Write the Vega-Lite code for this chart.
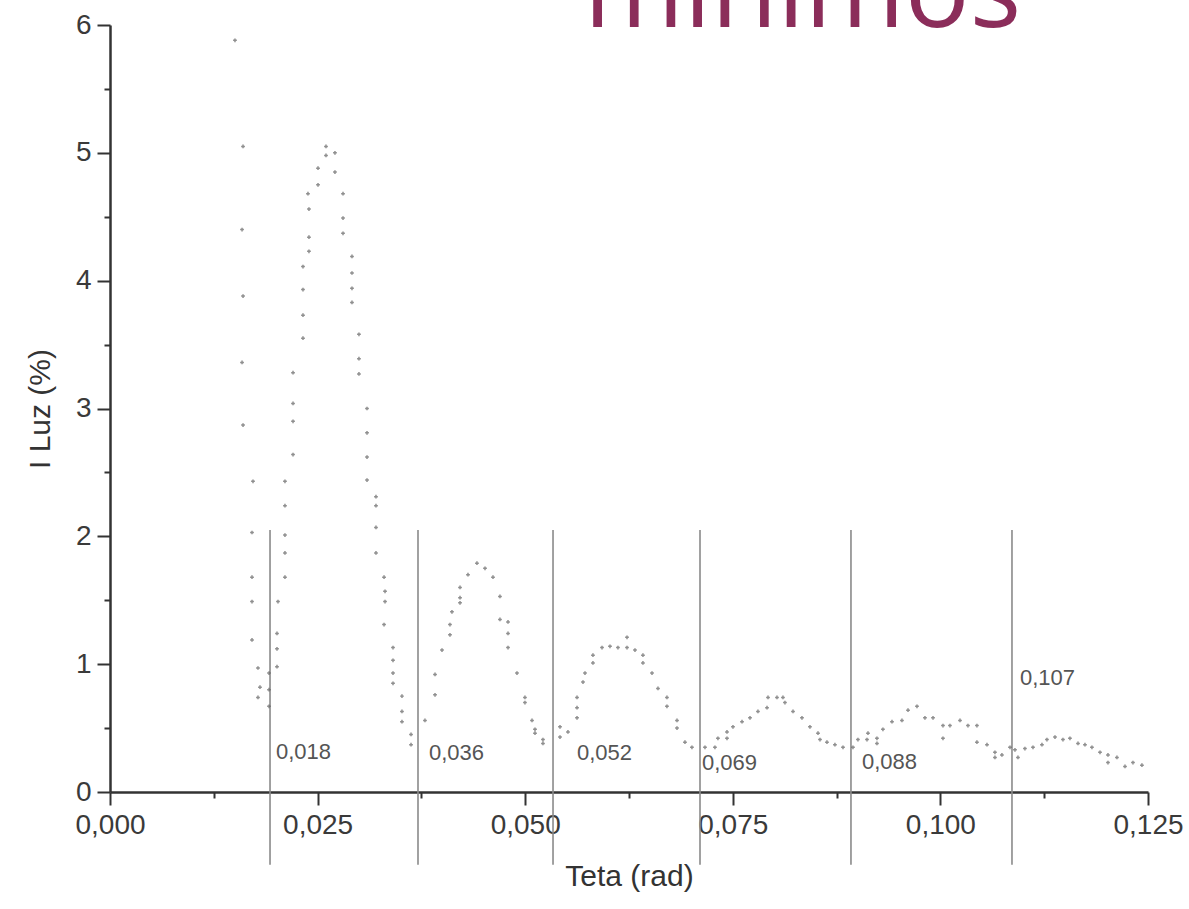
{
  "$schema": "https://vega.github.io/schema/vega-lite/v6.json",
  "autosize": {"type": "none"},
  "padding": {"left": 110, "top": 25, "right": 41, "bottom": 117},
  "width": 1038,
  "height": 767,
  "background": "white",
  "config": {
    "view": {"stroke": null},
    "font": "Liberation Sans"
  },
  "datasets": {
    "points": [
      {"t": 0.01505, "i": 5.88}, {"t": 0.01602, "i": 5.05}, {"t": 0.0159, "i": 4.40}, {"t": 0.01602, "i": 3.88},
      {"t": 0.0159, "i": 3.36}, {"t": 0.01602, "i": 2.87}, {"t": 0.01722, "i": 2.43}, {"t": 0.0171, "i": 2.03},
      {"t": 0.0171, "i": 1.68}, {"t": 0.0171, "i": 1.49}, {"t": 0.0171, "i": 1.19}, {"t": 0.01782, "i": 0.97},
      {"t": 0.01806, "i": 0.82}, {"t": 0.01782, "i": 0.74}, {"t": 0.01915, "i": 0.93}, {"t": 0.01915, "i": 0.80},
      {"t": 0.01915, "i": 0.67},
      {"t": 0.02011, "i": 0.98}, {"t": 0.02011, "i": 1.12}, {"t": 0.02011, "i": 1.24}, {"t": 0.02023, "i": 1.49},
      {"t": 0.02107, "i": 1.68}, {"t": 0.02107, "i": 1.87}, {"t": 0.02107, "i": 2.01}, {"t": 0.02107, "i": 2.24},
      {"t": 0.02107, "i": 2.43}, {"t": 0.02204, "i": 2.64}, {"t": 0.02204, "i": 2.90}, {"t": 0.02204, "i": 3.04},
      {"t": 0.02204, "i": 3.28}, {"t": 0.02324, "i": 3.55}, {"t": 0.02324, "i": 3.73}, {"t": 0.02324, "i": 3.93},
      {"t": 0.02324, "i": 4.11}, {"t": 0.02396, "i": 4.23}, {"t": 0.02396, "i": 4.34}, {"t": 0.02396, "i": 4.56},
      {"t": 0.02384, "i": 4.68}, {"t": 0.02505, "i": 4.75}, {"t": 0.02505, "i": 4.88}, {"t": 0.02601, "i": 4.98},
      {"t": 0.02601, "i": 5.05}, {"t": 0.02709, "i": 5.00}, {"t": 0.02709, "i": 4.85}, {"t": 0.02806, "i": 4.68},
      {"t": 0.02806, "i": 4.49}, {"t": 0.02806, "i": 4.37}, {"t": 0.02914, "i": 4.19}, {"t": 0.02914, "i": 4.06},
      {"t": 0.02914, "i": 3.94}, {"t": 0.02914, "i": 3.83}, {"t": 0.02998, "i": 3.58}, {"t": 0.02998, "i": 3.39},
      {"t": 0.02998, "i": 3.27}, {"t": 0.03095, "i": 3.00}, {"t": 0.03095, "i": 2.81}, {"t": 0.03095, "i": 2.62},
      {"t": 0.03095, "i": 2.44}, {"t": 0.03203, "i": 2.31}, {"t": 0.03203, "i": 2.24}, {"t": 0.03203, "i": 2.07},
      {"t": 0.03203, "i": 1.87}, {"t": 0.033, "i": 1.68}, {"t": 0.03312, "i": 1.57}, {"t": 0.03312, "i": 1.49},
      {"t": 0.033, "i": 1.31}, {"t": 0.03408, "i": 1.13}, {"t": 0.03408, "i": 1.03}, {"t": 0.03408, "i": 0.93},
      {"t": 0.03408, "i": 0.85}, {"t": 0.03516, "i": 0.75}, {"t": 0.03516, "i": 0.63}, {"t": 0.03516, "i": 0.55},
      {"t": 0.03625, "i": 0.45}, {"t": 0.03625, "i": 0.37},
      {"t": 0.03793, "i": 0.56}, {"t": 0.03914, "i": 0.76}, {"t": 0.03914, "i": 0.92}, {"t": 0.03998, "i": 1.11},
      {"t": 0.04094, "i": 1.23}, {"t": 0.04094, "i": 1.31}, {"t": 0.04118, "i": 1.41}, {"t": 0.04215, "i": 1.48},
      {"t": 0.04215, "i": 1.52}, {"t": 0.04215, "i": 1.60}, {"t": 0.04311, "i": 1.70}, {"t": 0.04419, "i": 1.79},
      {"t": 0.04516, "i": 1.75}, {"t": 0.04612, "i": 1.68}, {"t": 0.04696, "i": 1.53}, {"t": 0.04696, "i": 1.35},
      {"t": 0.04793, "i": 1.33}, {"t": 0.04793, "i": 1.24}, {"t": 0.04793, "i": 1.13}, {"t": 0.04901, "i": 0.93},
      {"t": 0.04997, "i": 0.74}, {"t": 0.04997, "i": 0.70}, {"t": 0.05082, "i": 0.56}, {"t": 0.05118, "i": 0.49},
      {"t": 0.05118, "i": 0.46}, {"t": 0.05214, "i": 0.41}, {"t": 0.05214, "i": 0.38},
      {"t": 0.05419, "i": 0.51}, {"t": 0.05419, "i": 0.43}, {"t": 0.05515, "i": 0.47}, {"t": 0.05624, "i": 0.58},
      {"t": 0.05624, "i": 0.66}, {"t": 0.05624, "i": 0.74}, {"t": 0.05696, "i": 0.86}, {"t": 0.0572, "i": 0.93},
      {"t": 0.05816, "i": 1.01}, {"t": 0.05816, "i": 1.07}, {"t": 0.05925, "i": 1.13}, {"t": 0.06021, "i": 1.14},
      {"t": 0.06117, "i": 1.13}, {"t": 0.06226, "i": 1.21}, {"t": 0.06226, "i": 1.13}, {"t": 0.06322, "i": 1.11},
      {"t": 0.06418, "i": 1.07}, {"t": 0.06418, "i": 1.01}, {"t": 0.06527, "i": 0.93}, {"t": 0.06599, "i": 0.81},
      {"t": 0.06707, "i": 0.74}, {"t": 0.06707, "i": 0.67}, {"t": 0.06828, "i": 0.56}, {"t": 0.06828, "i": 0.50},
      {"t": 0.06924, "i": 0.39}, {"t": 0.07008, "i": 0.35},
      {"t": 0.07165, "i": 0.35}, {"t": 0.07285, "i": 0.35}, {"t": 0.07321, "i": 0.42}, {"t": 0.0743, "i": 0.47},
      {"t": 0.0743, "i": 0.42}, {"t": 0.07502, "i": 0.51}, {"t": 0.07611, "i": 0.55}, {"t": 0.07707, "i": 0.58},
      {"t": 0.07803, "i": 0.63}, {"t": 0.07912, "i": 0.66}, {"t": 0.07924, "i": 0.74}, {"t": 0.08032, "i": 0.74},
      {"t": 0.08104, "i": 0.74}, {"t": 0.08128, "i": 0.70}, {"t": 0.08225, "i": 0.63}, {"t": 0.08333, "i": 0.58},
      {"t": 0.08429, "i": 0.51}, {"t": 0.08526, "i": 0.46}, {"t": 0.0855, "i": 0.41}, {"t": 0.08634, "i": 0.39},
      {"t": 0.0873, "i": 0.37}, {"t": 0.08827, "i": 0.35},
      {"t": 0.08947, "i": 0.35}, {"t": 0.09007, "i": 0.41}, {"t": 0.09116, "i": 0.41}, {"t": 0.09128, "i": 0.46},
      {"t": 0.09236, "i": 0.42}, {"t": 0.09236, "i": 0.38}, {"t": 0.09308, "i": 0.49}, {"t": 0.09417, "i": 0.55},
      {"t": 0.09537, "i": 0.56}, {"t": 0.0961, "i": 0.64}, {"t": 0.09718, "i": 0.67}, {"t": 0.09814, "i": 0.58},
      {"t": 0.09911, "i": 0.58}, {"t": 0.10031, "i": 0.52}, {"t": 0.10031, "i": 0.42}, {"t": 0.10115, "i": 0.52},
      {"t": 0.10236, "i": 0.56}, {"t": 0.10332, "i": 0.52}, {"t": 0.1044, "i": 0.52}, {"t": 0.1044, "i": 0.39},
      {"t": 0.10561, "i": 0.37}, {"t": 0.10657, "i": 0.31}, {"t": 0.10657, "i": 0.27}, {"t": 0.10741, "i": 0.29},
      {"t": 0.10838, "i": 0.35}, {"t": 0.10898, "i": 0.33}, {"t": 0.10934, "i": 0.27},
      {"t": 0.11018, "i": 0.34}, {"t": 0.11115, "i": 0.35}, {"t": 0.11223, "i": 0.37}, {"t": 0.11283, "i": 0.41},
      {"t": 0.1138, "i": 0.43}, {"t": 0.11476, "i": 0.41}, {"t": 0.1156, "i": 0.42}, {"t": 0.11657, "i": 0.38},
      {"t": 0.11741, "i": 0.37}, {"t": 0.11825, "i": 0.35}, {"t": 0.11922, "i": 0.31}, {"t": 0.12018, "i": 0.29},
      {"t": 0.12018, "i": 0.23}, {"t": 0.12126, "i": 0.27}, {"t": 0.12223, "i": 0.20}, {"t": 0.12319, "i": 0.23},
      {"t": 0.12427, "i": 0.21}
    ],
    "minima": [
      {"t": 0.01927, "top": 2.05, "bottom": -0.57},
      {"t": 0.03709, "top": 2.05, "bottom": -0.57},
      {"t": 0.05335, "top": 2.05, "bottom": -0.57},
      {"t": 0.07105, "top": 2.05, "bottom": -0.57},
      {"t": 0.08923, "top": 2.05, "bottom": -0.57},
      {"t": 0.10862, "top": 2.05, "bottom": -0.57}
    ],
    "labels": [
      {"t": 0.01999, "i": 0.31, "label": "0,018"},
      {"t": 0.03841, "i": 0.305, "label": "0,036"},
      {"t": 0.05624, "i": 0.305, "label": "0,052"},
      {"t": 0.07129, "i": 0.227, "label": "0,069"},
      {"t": 0.09055, "i": 0.235, "label": "0,088"},
      {"t": 0.10958, "i": 0.89, "label": "0,107"}
    ],
    "heading": [
      {"t": 0.05708, "i": 5.986, "label": "mínimos"}
    ]
  },
  "encoding": {
    "x": {
      "field": "t",
      "type": "quantitative",
      "scale": {"domain": [0, 0.125], "nice": false, "zero": false},
      "axis": {
        "title": "Teta (rad)",
        "titleFontSize": 30,
        "titleFontWeight": "normal",
        "titleColor": "#333333",
        "titlePadding": 22,
        "values": [0, 0.0125, 0.025, 0.0375, 0.05, 0.0625, 0.075, 0.0875, 0.1, 0.1125, 0.125],
        "labelExpr": "round(datum.value*80) % 2 == 1 ? '' : replace(format(datum.value, '.3f'), '.', ',')",
        "labelFontSize": 28,
        "labelColor": "#3a3a3a",
        "labelPadding": 6,
        "labelOverlap": false,
        "labelFlush": false,
        "domainColor": "#333333",
        "domainWidth": 2.5,
        "tickColor": "#333333",
        "tickWidth": 2,
        "tickSize": {"condition": {"test": "round(datum.value*80) % 2 == 1", "value": 6}, "value": 13},
        "grid": false
      }
    },
    "y": {
      "field": "i",
      "type": "quantitative",
      "scale": {"domain": [0, 6], "nice": false},
      "axis": {
        "title": "I Luz (%)",
        "titleFontSize": 30,
        "titleFontWeight": "normal",
        "titleColor": "#333333",
        "titlePadding": 20,
        "values": [0, 0.5, 1, 1.5, 2, 2.5, 3, 3.5, 4, 4.5, 5, 5.5, 6],
        "labelExpr": "round(datum.value*2) % 2 == 1 ? '' : format(datum.value, 'd')",
        "labelFontSize": 28,
        "labelColor": "#3a3a3a",
        "labelPadding": 6,
        "labelOverlap": false,
        "labelFlush": false,
        "domainColor": "#333333",
        "domainWidth": 2.5,
        "tickColor": "#333333",
        "tickWidth": 2,
        "tickSize": {"condition": {"test": "round(datum.value*2) % 2 == 1", "value": 6}, "value": 13},
        "grid": false
      }
    }
  },
  "layer": [
    {
      "data": {"name": "minima"},
      "mark": {"type": "rule", "color": "#8a8a8a", "strokeWidth": 1.6},
      "encoding": {
        "x": {"field": "t", "type": "quantitative"},
        "y": {"field": "top", "type": "quantitative"},
        "y2": {"field": "bottom"}
      }
    },
    {
      "data": {"name": "points"},
      "mark": {"type": "point", "shape": "cross", "filled": true, "size": 14, "color": "#6a6a6a", "opacity": 0.75}
    },
    {
      "data": {"name": "labels"},
      "mark": {"type": "text", "align": "left", "baseline": "middle", "fontSize": 22, "color": "#555555", "font": "Liberation Sans"},
      "encoding": {
        "text": {"field": "label", "type": "nominal"}
      }
    },
    {
      "data": {"name": "heading"},
      "mark": {"type": "text", "align": "left", "baseline": "alphabetic", "fontSize": 108, "color": "#8B2D5A", "font": "Open Sans"},
      "encoding": {
        "text": {"field": "label", "type": "nominal"}
      }
    }
  ]
}
